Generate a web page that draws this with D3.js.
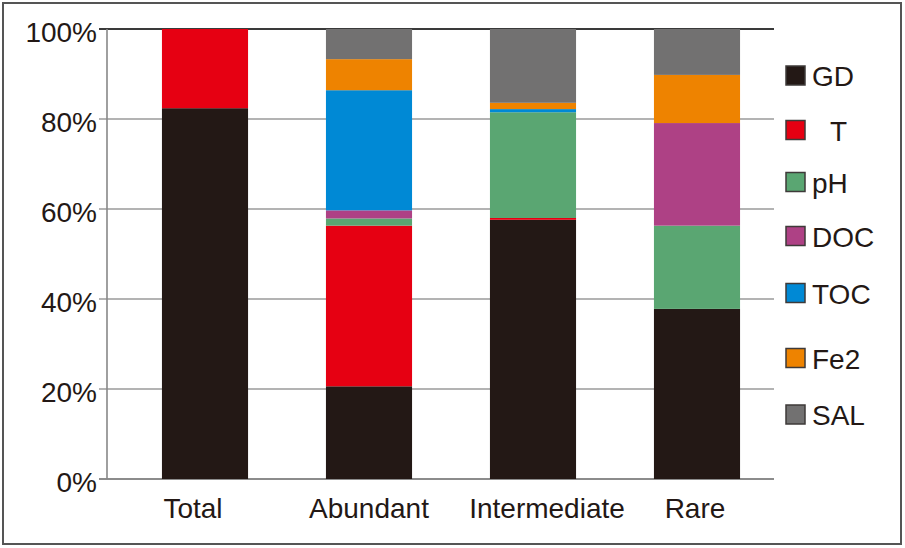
<!DOCTYPE html>
<html>
<head>
<meta charset="utf-8">
<script src="https://cdn.jsdelivr.net/npm/d3@7"></script>
<style>
  html, body { margin: 0; padding: 0; background: #fff; }
  svg { display: block; font-family: "Liberation Sans", Arial, sans-serif; }
</style>
</head>
<body>
<svg id="chart" width="905" height="548"></svg>
<script>
// ---- data ----
const categories = ["Total", "Abundant", "Intermediate", "Rare"];
const seriesNames = ["GD", "T", "pH", "DOC", "TOC", "Fe2", "SAL"];
const GD  = [82.4, 20.6, 57.6, 37.8];
const T   = [17.6, 35.7, 0.4, 0];
const pH  = [0, 1.6, 23.5, 18.5];
const DOC = [0, 1.8, 0, 22.8];
const TOC = [0, 26.7, 0.7, 0];
const Fe2 = [0, 6.9, 1.4, 10.7];
const SAL = [0, 6.7, 16.4, 10.2];
const yTicks = [0, 20, 40, 60, 80, 100];
const seriesColors = ["#231815", "#e60012", "#5aa672", "#ae4185", "#0089d5", "#ee8300", "#727171"];

// ---- build table ----
const seriesValues = [GD, T, pH, DOC, TOC, Fe2, SAL];
const table = categories.map((c, i) => {
  const row = { category: c };
  seriesNames.forEach((s, j) => row[s] = seriesValues[j][i]);
  return row;
});

const svg = d3.select("#chart");
const textColor = "#231815";

// outer frame
svg.append("rect")
  .attr("x", 3).attr("y", 3).attr("width", 898).attr("height", 541)
  .attr("fill", "none").attr("stroke", "#555").attr("stroke-width", 2);

const x = d3.scaleBand().domain(categories).range([123, 779])
  .paddingInner(0.475).paddingOuter(0.2375);
const y = d3.scaleLinear().domain([0, 100]).range([479, 29]);
const color = d3.scaleOrdinal().domain(seriesNames).range(seriesColors);

const plotLeft = 107, plotRight = 774;

// gridlines
svg.append("g").selectAll("line").data(yTicks).join("line")
  .attr("x1", 99).attr("x2", plotRight)
  .attr("y1", d => y(d)).attr("y2", d => y(d))
  .attr("stroke", d => d === 100 ? "#3a3a3a" : (d === 0 ? "#666" : "#9a9a9a"))
  .attr("stroke-width", d => d === 100 ? 2 : 1.6);

// left axis line
svg.append("line")
  .attr("x1", plotLeft).attr("x2", plotLeft)
  .attr("y1", y(100)).attr("y2", y(0))
  .attr("stroke", "#888").attr("stroke-width", 1.6);

// y tick labels
svg.append("g").selectAll("text").data(yTicks).join("text")
  .attr("x", 97).attr("y", d => y(d) + 13)
  .attr("text-anchor", "end")
  .attr("font-size", 28)
  .attr("fill", textColor)
  .text(d => d + "%");

// stacked bars
const stack = d3.stack().keys(seriesNames);
const stacked = stack(table);
svg.append("g").selectAll("g").data(stacked).join("g")
  .attr("fill", d => color(d.key))
  .selectAll("rect").data(d => d).join("rect")
  .attr("x", d => x(d.data.category))
  .attr("width", x.bandwidth())
  .attr("y", d => y(d[1]))
  .attr("height", d => Math.max(0, y(d[0]) - y(d[1])));

// x labels
const xLabelShift = { Total: -12, Abundant: 0, Intermediate: 14, Rare: -2 };
svg.append("g").selectAll("text").data(categories).join("text")
  .attr("x", d => x(d) + x.bandwidth() / 2 + xLabelShift[d])
  .attr("y", 518)
  .attr("text-anchor", "middle")
  .attr("font-size", 28)
  .attr("fill", textColor)
  .text(d => d);

// legend
const legendY = [75.5, 130, 182, 236, 293, 358, 414.5];
const legend = svg.append("g").selectAll("g").data(seriesNames).join("g")
  .attr("transform", (d, i) => `translate(786, ${legendY[i]})`);
legend.append("rect")
  .attr("x", 0).attr("y", -9.5).attr("width", 19).attr("height", 19)
  .attr("fill", d => color(d))
  .attr("stroke", "#3e3a39").attr("stroke-width", 1.5);
legend.append("text")
  .attr("x", d => d === "T" ? 44 : 26)
  .attr("y", 10.5)
  .attr("font-size", 28)
  .attr("fill", textColor)
  .text(d => d);
</script>
</body>
</html>
